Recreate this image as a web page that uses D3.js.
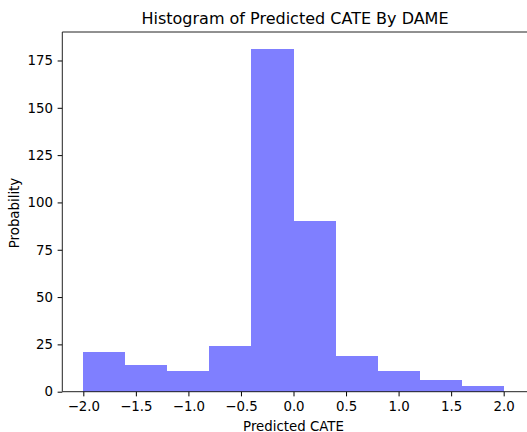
<!DOCTYPE html>
<html>
<head>
<meta charset="utf-8">
<script src="https://cdn.jsdelivr.net/npm/d3@7"></script>
<style>
  html, body { margin: 0; padding: 0; background: #fff; }
  svg { display: block; }
  text { font-family: "DejaVu Sans", sans-serif; fill: #000; }
</style>
</head>
<body>
<svg id="chart" width="527" height="432"></svg>
<script>
// Data: histogram bins of predicted CATE
const binEdges = [-2.0, -1.6, -1.2, -0.8, -0.4, 0.0, 0.4, 0.8, 1.2, 1.6, 2.0];
const counts = [21, 14, 11, 24, 181, 90, 19, 11, 6, 3];
const xTicks = [-2.0, -1.5, -1.0, -0.5, 0.0, 0.5, 1.0, 1.5, 2.0];
const yTicks = [0, 25, 50, 75, 100, 125, 150, 175];
const titleText = "Histogram of Predicted CATE By DAME";
const xLabel = "Predicted CATE";
const yLabel = "Probability";

const svg = d3.select("#chart");
const mLeft = 62.3, mRight = 524.7, mTop = 32, mBottom = 391.7;
const tickFont = "13.33px";

const x = d3.scaleLinear().domain([-2.2, 2.2]).range([mLeft, mRight]);
const yMax = d3.max(counts) * 1.05;
const y = d3.scaleLinear().domain([0, yMax]).range([mBottom, mTop]);

const bins = counts.map((c, i) => ({x0: binEdges[i], x1: binEdges[i + 1], c}));

svg.append("g").attr("shape-rendering", "crispEdges")
  .selectAll("rect").data(bins).join("rect")
  .attr("x", d => x(d.x0))
  .attr("width", d => x(d.x1) - x(d.x0))
  .attr("y", d => y(d.c))
  .attr("height", d => y(0) - y(d.c))
  .attr("fill", "rgba(0,0,255,0.5)");

const fmt = d => d3.format(".1f")(d).replace("-", "\u2212");

const xAxis = svg.append("g").attr("transform", `translate(0,${mBottom})`)
  .call(d3.axisBottom(x).tickValues(xTicks).tickFormat(fmt).tickSizeInner(4.67).tickSizeOuter(0).tickPadding(5.5));
xAxis.select(".domain").remove();
xAxis.selectAll("text").attr("font-size", tickFont).attr("font-family", "DejaVu Sans").attr("fill", "#000");
xAxis.selectAll("line").attr("stroke", "#000");

const yAxis = svg.append("g").attr("transform", `translate(${mLeft},0)`)
  .call(d3.axisLeft(y).tickValues(yTicks).tickFormat(d3.format("d")).tickSizeInner(4.67).tickSizeOuter(0).tickPadding(4.67));
yAxis.select(".domain").remove();
yAxis.selectAll("text").attr("font-size", tickFont).attr("font-family", "DejaVu Sans").attr("fill", "#000");
yAxis.selectAll("line").attr("stroke", "#000");

// spines: left, top, bottom
const sp = svg.append("g").attr("stroke", "#222").attr("stroke-width", 1);
sp.append("line").attr("x1", mLeft).attr("x2", mLeft).attr("y1", mTop).attr("y2", mBottom);
sp.append("line").attr("x1", mLeft).attr("x2", 527).attr("y1", mTop).attr("y2", mTop);
sp.append("line").attr("x1", mLeft).attr("x2", 527).attr("y1", mBottom).attr("y2", mBottom);

svg.append("text").attr("x", 295).attr("y", 24)
  .attr("text-anchor", "middle").attr("font-size", "16px").text(titleText);

svg.append("text").attr("x", (mLeft + mRight) / 2).attr("y", 430.5)
  .attr("text-anchor", "middle").attr("font-size", tickFont).text(xLabel);

svg.append("text").attr("transform", `translate(19.3,213) rotate(-90)`)
  .attr("text-anchor", "middle").attr("font-size", tickFont).text(yLabel);
</script>
</body>
</html>
